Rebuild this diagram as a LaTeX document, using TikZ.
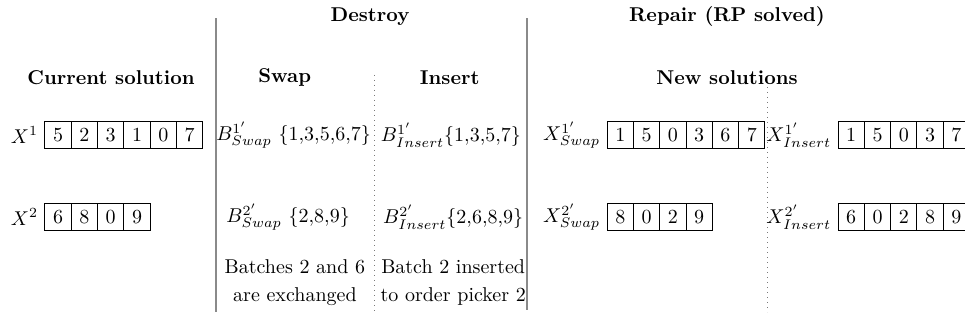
\documentclass[tikz,border=0pt]{standalone}
\usepackage{amsmath}
\usepackage{tikz}
\usetikzlibrary{positioning}
\definecolor{rulegray}{HTML}{8A8A8A}
\definecolor{dotgray}{HTML}{7A7A7A}
\tikzset{
  cell/.style={draw=black,line width=0.5pt,minimum width=0.462cm,
               minimum height=0.474cm,inner sep=0pt},
  head/.style={font=\bfseries},
  sepsolid/.style={rulegray,line width=1pt},
  sepdots/.style={dotgray,dotted,line width=0.5pt},
  batch/.style={inner sep=1pt},
  note/.style={align=center},
}

\begin{document}
\begin{tikzpicture}
  \useasboundingbox (0,0) rectangle (16.95,5.657);
  % headings
  \node[head] (hdes) at (6.50,5.36) {Destroy};
  \node[head] (hrep) at (12.77,5.36) {Repair (RP solved)};
  \node[head] (hcur) at (1.95,4.30) {Current solution};
  \node[head] (hswp) at (5.00,4.30) {Swap};
  \node[head] (hins) at (7.90,4.30) {Insert};
  \node[head] (hnew) at (12.77,4.30) {New solutions};
  % separators
  \draw[sepsolid] (3.795,5.34) -- (3.795,0.176);
  \draw[sepsolid] (9.258,5.34) -- (9.258,0.21);
  \draw[sepdots] (6.57,4.34) -- (6.57,0.176);
  \draw[sepdots] (13.475,4.13) -- (13.475,0.176);
  % solutions as rows of cells
  \foreach \rw/\lab/\x/\y/\vals in {
    a/{$X^1$}/0.79/3.285/{5,2,3,1,0,7},
    b/{$X^2$}/0.79/1.845/{6,8,0,9},
    c/{$X^{1'}_{Swap}$}/10.664/3.285/{1,5,0,3,6,7},
    d/{$X^{2'}_{Swap}$}/10.664/1.845/{8,0,2,9},
    e/{$X^{1'}_{Insert}$}/14.72/3.285/{1,5,0,3,7},
    f/{$X^{2'}_{Insert}$}/14.72/1.845/{6,0,2,8,9}}{
    \foreach \val [count=\k] in \vals{
      \node[cell] (\rw\k) at (\x+0.462*\k-0.231,\y) {\val};
    }
    \node[left=2pt of \rw1,inner sep=1pt] (x\rw) {\lab};
  }
  % batches after destroy
  \node[batch] (bs1) at (5.157,3.285) {$B^{1'}_{Swap}\ \{1{,}3{,}5{,}6{,}7\}$};
  \node[batch] (bi1) at (7.92,3.285) {$B^{1'}_{Insert}\{1{,}3{,}5{,}7\}$};
  \node[batch] (bs2) at (5.06,1.845) {$B^{2'}_{Swap}\ \{2{,}8{,}9\}$};
  \node[batch] (bi2) at (7.96,1.845) {$B^{2'}_{Insert}\{2{,}6{,}8{,}9\}$};
  \node[note] (ns) at (5.18,0.70) {Batches 2 and 6\\[2pt]are exchanged};
  \node[note] (ni) at (7.96,0.70) {Batch 2 inserted\\[2pt]to order picker 2};
\end{tikzpicture}
\end{document}
